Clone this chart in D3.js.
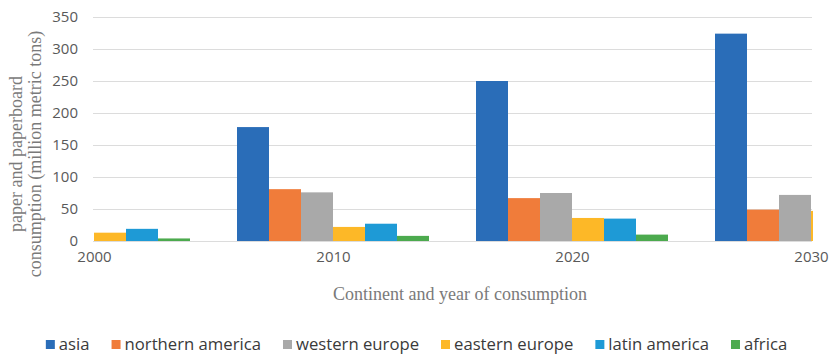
<!DOCTYPE html>
<html>
<head>
<meta charset="utf-8">
<script src="https://cdn.jsdelivr.net/npm/d3@7"></script>
<style>
  body { margin: 0; background: #fff; }
  svg { display: block; }
  .tick text { font-family: "Open Sans", sans-serif; font-size: 15px; fill: #595959; }
  .legend text { font-family: "Open Sans", sans-serif; font-size: 16.7px; fill: #3a3a3a; }
  .title { font-family: "Liberation Serif", "Times New Roman", serif; font-size: 18px; fill: #7a7a7a; }
</style>
</head>
<body>
<script>
var width = 830
var height = 355

// data
var years = [2000, 2010, 2020, 2030]
var series = ["asia", "northern america", "western europe", "eastern europe", "latin america", "africa"]
var asia = [null, 178, 250, 324]
var northernAmerica = [null, 81, 67, 49]
var westernEurope = [null, 76, 75, 72]
var easternEurope = [13, 22, 36, 47]
var latinAmerica = [19, 27, 35, null]
var africa = [4, 8, 10, null]
var yTicks = [0, 50, 100, 150, 200, 250, 300, 350]
var colors = ["#2a6db8", "#f07c3a", "#a9a9a9", "#fdb827", "#1e9ad6", "#4caa4e"]

var values = [asia, northernAmerica, westernEurope, easternEurope, latinAmerica, africa]

var plotLeft = 93, plotRight = 812, plotTop = 17, plotBottom = 241

var svg = d3.select("body").append("svg")
    .attr("width", width)
    .attr("height", height)

var x = d3.scaleLinear().domain([2000, 2030]).range([94, 811])
var y = d3.scaleLinear().domain([0, 350]).range([plotBottom, plotTop])
var xs = d3.scaleBand().domain(series).range([-96, 96]).paddingInner(0)

svg.append("defs").append("clipPath").attr("id", "plot")
  .append("rect")
    .attr("x", plotLeft)
    .attr("y", 0)
    .attr("width", plotRight - plotLeft + 1)
    .attr("height", plotBottom + 1)

// gridlines
svg.append("g").selectAll("line").data(yTicks).enter()
  .append("line")
    .attr("x1", plotLeft)
    .attr("x2", plotRight)
    .attr("y1", function(d){ return Math.round(y(d)) + 0.5 })
    .attr("y2", function(d){ return Math.round(y(d)) + 0.5 })
    .attr("stroke", "#dcdcdc")
    .attr("stroke-width", 1)

// y axis labels
var yAxis = svg.append("g")
    .attr("transform", "translate(78,0)")
    .call(d3.axisLeft(y).tickValues(yTicks).tickSize(0).tickPadding(0))
yAxis.select(".domain").remove()

// x axis labels
var xAxis = svg.append("g")
    .attr("transform", "translate(0," + (plotBottom + 10) + ")")
    .call(d3.axisBottom(x).tickValues(years).tickFormat(d3.format("d")).tickSize(0).tickPadding(0))
xAxis.select(".domain").remove()
xAxis.selectAll("text").attr("dy", "0.71em")

// bars
var bars = []
values.forEach(function(arr, i){
  arr.forEach(function(v, j){
    if (v != null) bars.push({ s: series[i], year: years[j], value: v, fill: colors[i] })
  })
})

svg.append("g").attr("clip-path", "url(#plot)")
  .selectAll("rect").data(bars).enter()
  .append("rect")
    .attr("x", function(d){ return x(d.year) + xs(d.s) })
    .attr("y", function(d){ return y(d.value) })
    .attr("width", xs.bandwidth())
    .attr("height", function(d){ return y(0) - y(d.value) })
    .attr("fill", function(d){ return d.fill })

// axis titles
svg.append("text")
    .attr("class", "title")
    .attr("x", 460)
    .attr("y", 300)
    .attr("text-anchor", "middle")
    .text("Continent and year of consumption")

var yt = svg.append("text")
    .attr("class", "title")
    .attr("transform", "translate(22,154) rotate(-90)")
    .attr("text-anchor", "middle")
yt.append("tspan").attr("x", 0).attr("y", 0).text("paper and paperboard")
yt.append("tspan").attr("x", 0).attr("y", 19).text("consumption (million metric tons)")

// legend
var legend = svg.append("g").attr("class", "legend")
var items = legend.selectAll("g").data(series).enter().append("g")
items.append("rect")
    .attr("y", 340)
    .attr("width", 9)
    .attr("height", 9)
    .attr("fill", function(d, i){ return colors[i] })
items.append("text")
    .attr("x", 13)
    .attr("y", 350)
    .text(function(d){ return d })

var pos = 0
var gap = 22
items.each(function(){
  var w = 13 + this.querySelector("text").getComputedTextLength()
  d3.select(this).attr("data-x", pos)
  pos += w + gap
})
var total = pos - gap
var start = 416.5 - total / 2
items.attr("transform", function(){ return "translate(" + (start + +this.getAttribute("data-x")) + ",0)" })
</script>
</body>
</html>
